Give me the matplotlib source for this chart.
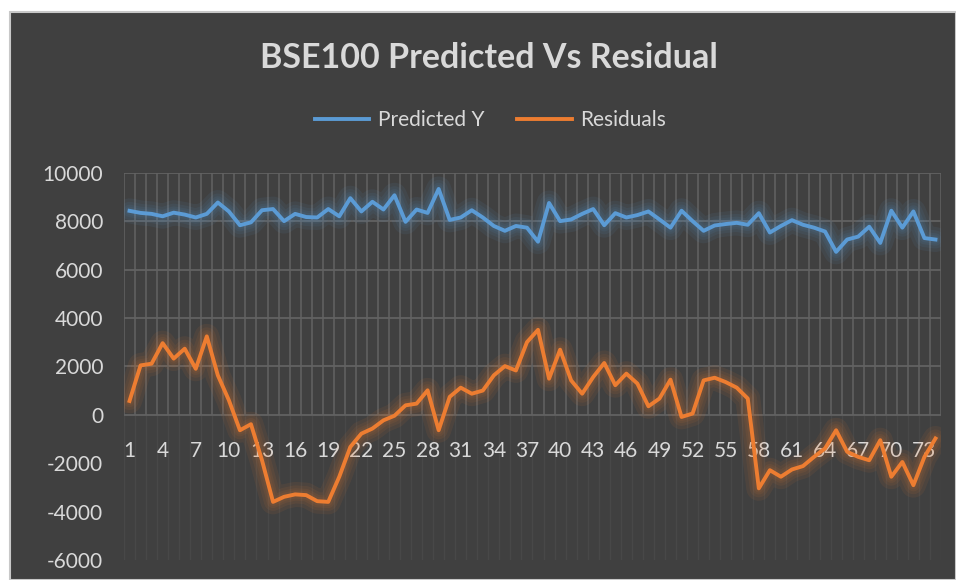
import numpy as np
import matplotlib.pyplot as plt
from matplotlib.patches import Rectangle

# values
predicted_y = [8425, 8340, 8300, 8200, 8350, 8270, 8150, 8300, 8770, 8400,
               7830, 7950, 8450, 8500, 8000, 8300, 8170, 8150, 8500, 8200,
               8950, 8400, 8800, 8480, 9070, 7970, 8480, 8340, 9330, 8050,
               8150, 8450, 8150, 7800, 7600, 7800, 7730, 7150, 8750, 8000,
               8070, 8300, 8500, 7830, 8330, 8150, 8250, 8400, 8070, 7730,
               8430, 8000, 7600, 7820, 7880, 7930, 7850, 8330, 7530, 7800,
               8040, 7850, 7730, 7570, 6730, 7240, 7360, 7770, 7100, 8430,
               7730, 8400, 7300, 7240]
residuals = [570, 2040, 2110, 2960, 2320, 2730, 1900, 3240, 1630, 600,
             -640, -390, -1880, -3600, -3390, -3290, -3320, -3570, -3600, -2560,
             -1330, -780, -570, -230, -40, 390, 460, 1010, -640, 740,
             1120, 870, 1000, 1630, 2010, 1830, 3000, 3510, 1490, 2690,
             1420, 870, 1560, 2140, 1220, 1700, 1290, 350, 670, 1450,
             -90, 50, 1420, 1530, 1350, 1120, 670, -3040, -2290, -2560,
             -2260, -2120, -1740, -1390, -640, -1530, -1740, -1880, -1050, -2560,
             -1950, -2910, -1740, -980]
x = np.arange(1, len(predicted_y) + 1)
y_ticks = [-6000, -4000, -2000, 0, 2000, 4000, 6000, 8000, 10000]

bg = '#404040'
grid_col = '#626262'
text_col = '#d9d9d9'
blue = '#5b9bd5'
orange = '#ed7d31'
font = ['Lato', 'DejaVu Sans']

fig = plt.figure(figsize=(9.56, 5.8), dpi=100, facecolor='white')
fig.patches.append(Rectangle((10 / 956, 0), 946 / 956, 568 / 580,
                             transform=fig.transFigure, facecolor=bg,
                             edgecolor='#c8c8c8', linewidth=1.5, zorder=-5))

ax = fig.add_axes([0.1297, 0.0345, 0.8546, 0.6677])
ax.set_zorder(2)
ax.set_facecolor(bg)
ax.set_xlim(0.5, len(x) + 0.5)
ax.set_ylim(-6000, 10000)

# gridlines: strong above zero, faint below
for v in y_ticks:
    if v >= 0:
        ax.axhline(v, color=grid_col, lw=1.3, zorder=1)
edges = np.arange(0.5, len(x) + 1, 1)
ax.vlines(edges, 0, 10000, color=grid_col, lw=1.1, zorder=1)
ax.vlines(edges, -6000, 0, color=grid_col, lw=1.0, alpha=0.25, zorder=1)

# soft glow under each line
for series, col in [(predicted_y, blue), (residuals, orange)]:
    for w in [18, 13, 9, 6]:
        ax.plot(x, series, color=col, lw=w, alpha=0.08,
                solid_joinstyle='round', solid_capstyle='round', zorder=2)

ax.plot(x, predicted_y, color=blue, lw=2.8, label='Predicted Y',
        solid_joinstyle='round', zorder=3)
ax.plot(x, residuals, color=orange, lw=2.8, label='Residuals',
        solid_joinstyle='round', zorder=3)

for s in ax.spines.values():
    s.set_visible(False)
ax.spines['bottom'].set_position(('data', 0))

ax.set_yticks(y_ticks)
ax.set_yticklabels([str(v) for v in y_ticks])
ax.set_xticks(x[::3])
ax.set_xticklabels([str(v) for v in x[::3]])
ax.tick_params(axis='both', length=0, colors=text_col, labelsize=15)
ax.tick_params(axis='x', pad=19)
ax.tick_params(axis='y', pad=15)
for lbl in ax.get_xticklabels() + ax.get_yticklabels():
    lbl.set_family(font)
for lbl in ax.get_xticklabels():
    lbl.set_zorder(4)

fig.text(0.511, 0.900, 'BSE100 Predicted Vs Residual', ha='center',
         va='center', color=text_col, fontsize=24.5, fontweight='bold',
         family=font)

leg = fig.legend(loc='center', bbox_to_anchor=(0.513, 0.793), ncol=2,
                 frameon=False, handlelength=2.6,
                 columnspacing=1.6, handletextpad=0.4,
                 prop={'family': font, 'size': 15})
for t in leg.get_texts():
    t.set_color(text_col)

fig.savefig('out.png', dpi=100, facecolor='white')
